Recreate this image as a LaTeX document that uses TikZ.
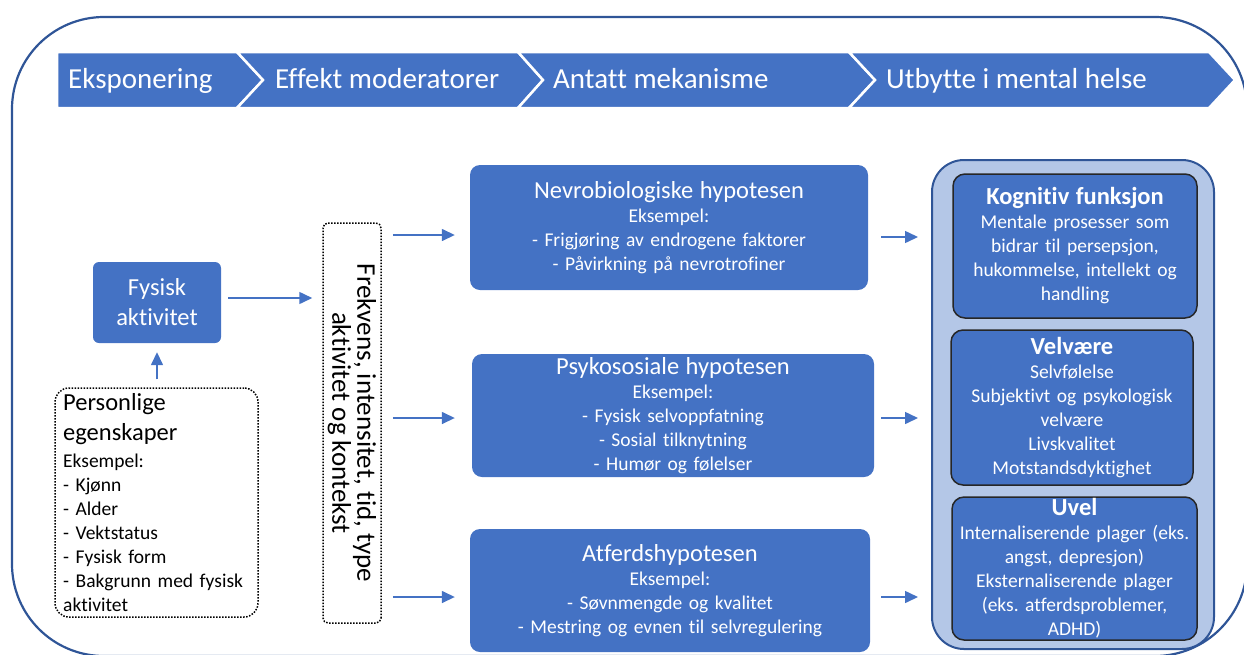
\documentclass[tikz,border=0pt]{standalone}
\usepackage{fontspec}
\setmainfont{Carlito}[Ligatures=NoCommon]
\usepackage{tikz}
\usetikzlibrary{arrows.meta,positioning,calc}
\definecolor{boxblue}{HTML}{4472C4}
\definecolor{frameblue}{HTML}{2F5597}
\definecolor{paleblue}{HTML}{B4C7E7}
\newcommand{\bandfont}{\fontsize{29}{34}\selectfont}
\newcommand{\titlefont}{\fontsize{24.5}{30}\selectfont}
\newcommand{\headfont}{\fontsize{24.5}{26}\selectfont\bfseries}
\newcommand{\bodyfont}{\fontsize{19.5}{24}\selectfont}
\newcommand{\rotfont}{\fontsize{27}{25}\selectfont}
\frenchspacing
\tikzset{
  chev/.style={fill=boxblue,draw=white,line width=2.5pt,line join=miter},
  bandtext/.style={anchor=base west,inner sep=0pt,text=white,font=\bandfont},
  hypbox/.style={fill=boxblue,rounded corners=10pt,text=white,align=center,
    text width=390pt,inner sep=0pt,font=\bodyfont},
  outbox/.style={draw=black!85,line width=1.5pt,fill=boxblue,rounded corners=12pt,
    text=white,align=center,text width=238pt,inner sep=0pt,font=\bodyfont},
  dotbox/.style={draw=black,line width=1.5pt,dash pattern=on 1.5pt off 1.5pt},
  arr/.style={draw=boxblue,line width=1.5pt,-{Triangle[length=13pt,width=12pt]}}
}

\begin{document}
\begin{tikzpicture}[x=1pt,y=-1pt]
  \useasboundingbox (0,0) rectangle (1244,654);
  \clip (0,0) rectangle (1244,654);
  \draw[frameblue,line width=2.2pt,rounded corners=92pt] (12,17) rectangle (1247,656);

  % stage band
  \filldraw[chev] (57,52) -- (237,52) -- (263,80) -- (237,108) -- (57,108) -- cycle;
  \filldraw[chev] (237,52) -- (518,52) -- (543,80) -- (518,108) -- (237,108) -- (263,80) -- cycle;
  \filldraw[chev] (518,52) -- (849,52) -- (875,80) -- (849,108) -- (518,108) -- (543,80) -- cycle;
  \filldraw[chev] (849,52) -- (1209,52) -- (1235,80) -- (1209,108) -- (849,108) -- (875,80) -- cycle;
  \node[bandtext] (stexp) at (68,88) {Eksponering};
  \node[bandtext] (stmod) at (275,88) {Effekt moderatorer};
  \node[bandtext] (stmek) at (553,88) {Antatt mekanisme};
  \node[bandtext] (stutb) at (886,88) {Utbytte i mental helse};

  % exposure
  \node[fill=boxblue,rounded corners=6pt,text=white,align=center,font=\titlefont,
    minimum width=128pt,minimum height=81pt,inner sep=0pt] (fys) at (157,302.5)
    {Fysisk\\aktivitet};
  \node[dotbox,rounded corners=14pt,minimum width=203pt,minimum height=229pt]
    (pers) at (156.5,502.5) {};
  \node[anchor=north west,inner sep=0pt,text width=195pt,align=left,font=\bodyfont]
    (perstxt) at (63,393)
    {{\titlefont Personlige\\ egenskaper\par}\vspace{3pt}Eksempel:\\ - Kjønn\\ - Alder\\
     - Vektstatus\\ - Fysisk form\\ - Bakgrunn med fysisk\\ aktivitet};
  \node[dotbox,rounded corners=5pt,rotate=-90,minimum width=400pt,minimum height=58pt,
    inner sep=2pt,align=center,font=\rotfont] (freq) at (352,423)
    {Frekvens, intensitet, tid, type\\aktivitet og kontekst};

  % mechanisms
  \node[hypbox,minimum width=398pt,minimum height=125pt] (nevro) at (669,227.5)
    {{\titlefont Nevrobiologiske hypotesen\par}Eksempel:\\
     - Frigjøring av endrogene faktorer\\ - Påvirkning på nevrotrofiner};
  \node[hypbox,minimum width=402pt,minimum height=123pt] (psyko) at (673,415.5)
    {{\titlefont Psykososiale hypotesen\par}Eksempel:\\ - Fysisk selvoppfatning\\
     - Sosial tilknytning\\ - Humør og følelser};
  \node[hypbox,minimum width=400pt,minimum height=123pt] (atferd) at (670,590.5)
    {{\titlefont Atferdshypotesen\par}Eksempel:\\ - Søvnmengde og kvalitet\\
     - Mestring og evnen til selvregulering};

  % outcomes
  \node[draw=frameblue,line width=2pt,fill=paleblue,rounded corners=32pt,
    minimum width=282pt,minimum height=489pt] (cont) at (1073,404.5) {};
  \node[outbox,minimum width=244pt,minimum height=144pt] (kogn) at (1075,246)
    {{\headfont Kognitiv funksjon\par}Mentale prosesser som\\ bidrar til persepsjon,\\
     hukommelse, intellekt og\\ handling};
  \node[outbox,minimum width=242pt,minimum height=155pt] (velv) at (1072,407.5)
    {{\headfont Velvære\par}Selvfølelse\\ Subjektivt og psykologisk\\ velvære\\
     Livskvalitet\\ Motstandsdyktighet};
  \node[outbox,minimum width=245pt,minimum height=143pt] (uvel) at (1074.5,568.5)
    {{\headfont Uvel\par}Internaliserende plager (eks.\\ angst, depresjon)\\
     Eksternaliserende plager\\ (eks. atferdsproblemer,\\ ADHD)};

  % connectors
  \draw[arr,shorten <=8pt,shorten >=9pt] (pers.north -| fys.south) -- (fys.south);
  \draw[arr] ($(fys.east)+(7,-4.5)$) -- ($(fys.east -| freq.south)+(-10,-4.5)$);
  \draw[arr] ($(freq.north |- nevro.west)+(11,7.5)$) -- ($(nevro.west)+(-15,7.5)$);
  \draw[arr] ($(freq.north |- psyko.west)+(11,2.5)$) -- ($(psyko.west)+(-17,2.5)$);
  \draw[arr] ($(freq.north |- atferd.west)+(11,6.5)$) -- ($(atferd.west)+(-15,6.5)$);
  \draw[arr] ($(nevro.east)+(13,9.5)$) -- ($(nevro.east -| cont.west)+(-13,9.5)$);
  \draw[arr] ($(psyko.east)+(7,2.5)$) -- ($(psyko.east -| cont.west)+(-13,2.5)$);
  \draw[arr] ($(atferd.east)+(11,6.5)$) -- ($(atferd.east -| cont.west)+(-13,6.5)$);
\end{tikzpicture}
\end{document}
